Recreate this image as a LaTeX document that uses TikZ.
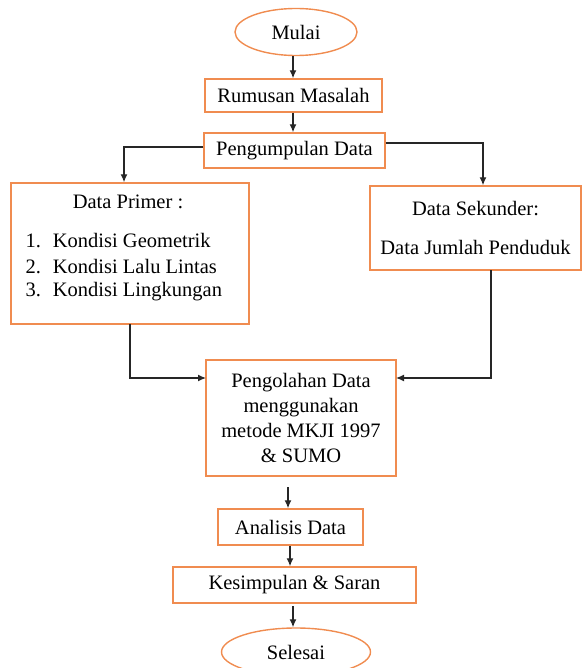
\documentclass[tikz,border=0pt]{standalone}
\usepackage{fontspec}
\setmainfont{Liberation Serif}
\usetikzlibrary{shapes.geometric,arrows.meta}
\definecolor{boxorange}{RGB}{240,140,80}
\begin{document}
\begin{tikzpicture}[x=1pt,y=-1pt, every node/.style={font=\fontsize{20.5}{25}\selectfont},
  box/.style={draw=boxorange,line width=1.4pt,inner sep=0pt},
  term/.style={draw=boxorange,line width=1.4pt,ellipse,inner sep=0pt},
  flow/.style={-{Latex[length=8pt,width=7pt]},line width=1.3pt,black!85}]
\useasboundingbox (0,0) rectangle (582,668);
\node[term,minimum width=122,minimum height=47] (mulai) at (296,32) {Mulai};
\node[box,minimum width=177,minimum height=33] (rumusan) at (293.5,95.5) {Rumusan Masalah};
\node[box,minimum width=181,minimum height=35] (kumpul) at (294.5,150.5) {Pengumpulan Data};
\node[box,minimum width=238,minimum height=141] (primer) at (130,253.5) {};
\node (primerjudul) at (128,202) {Data Primer :};
\node[anchor=west] (geo) at (22,241) {1.\hspace{12pt}Kondisi Geometrik};
\node[anchor=west] (lalin) at (22,267) {2.\hspace{12pt}Kondisi Lalu Lintas};
\node[anchor=west] (lingk) at (22,292) {3.\hspace{12pt}Kondisi Lingkungan};
\node[box,minimum width=211,minimum height=84,align=center] (sekunder) at (475.5,228) {Data Sekunder:\\[14pt]Data Jumlah Penduduk};
\node[box,minimum width=190,minimum height=116,align=center] (olah) at (301,418) {Pengolahan Data\\menggunakan\\metode MKJI 1997\\\& SUMO};
\node[box,minimum width=145,minimum height=36] (analisis) at (290.5,527) {Analisis Data};
\node[box,minimum width=243,minimum height=36] (simpul) at (294.5,585) {Kesimpulan \& Saran};
\node[term,minimum width=149,minimum height=48] (selesai) at (296,652) {Selesai};
% titik bantu
\coordinate (a1) at (293,0); \coordinate (a2) at (290,0);
\coordinate (kiri) at (124,147); \coordinate (kanan) at (483,143);
\coordinate (primerbawah) at (130,324); \coordinate (sekbawah) at (491,270);
\coordinate (olahkiri) at (206,378); \coordinate (olahkanan) at (396,378);
\coordinate (olahbawah) at (288,487); \coordinate (simpulbawah) at (293,606);
\draw[flow] (mulai.south -| a1) -- (a1 |- rumusan.north);
\draw[flow] (rumusan.south -| a1) -- (a1 |- kumpul.north);
\draw[flow] (kumpul.west |- kiri) -- (kiri) -- (kiri |- primer.north);
\draw[flow] (kumpul.east |- kanan) -- (kanan) -- (kanan |- sekunder.north);
\draw[flow] (primerbawah) |- (olahkiri);
\draw[flow] (sekbawah) |- (olahkanan);
\draw[flow] (olahbawah) -- (olahbawah |- analisis.north);
\draw[flow] (analisis.south -| a2) -- (a2 |- simpul.north);
\draw[flow] (simpulbawah) -- (simpulbawah |- selesai.north);
\end{tikzpicture}
\end{document}
